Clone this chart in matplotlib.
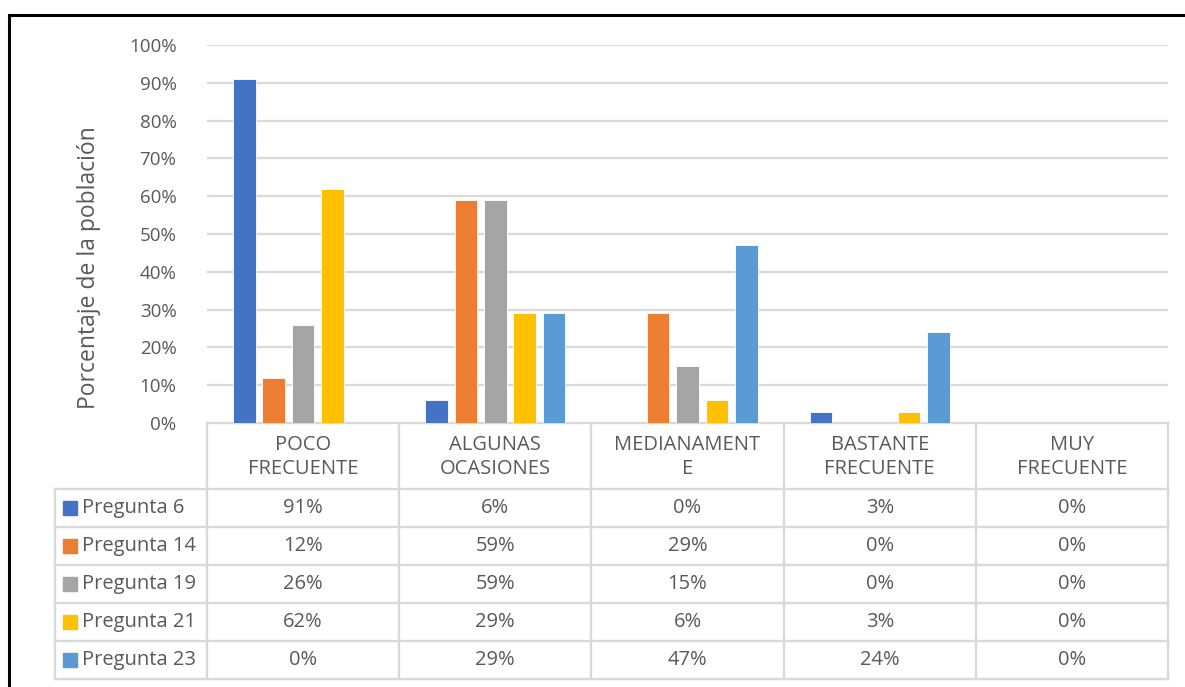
import matplotlib

matplotlib.use("Agg")
import matplotlib.pyplot as plt
import numpy as np
from matplotlib.patches import Rectangle
from matplotlib.ticker import FuncFormatter, MultipleLocator

categories = ["POCO\nFRECUENTE", "ALGUNAS\nOCASIONES", "MEDIANAMENT\nE",
              "BASTANTE\nFRECUENTE", "MUY\nFRECUENTE"]
series = ["Pregunta 6", "Pregunta 14", "Pregunta 19", "Pregunta 21", "Pregunta 23"]
pregunta_6 = [91, 6, 0, 3, 0]
pregunta_14 = [12, 59, 29, 0, 0]
pregunta_19 = [26, 59, 15, 0, 0]
pregunta_21 = [62, 29, 6, 3, 0]
pregunta_23 = [0, 29, 47, 24, 0]
colors = ["#4472C4", "#ED7D31", "#A5A5A5", "#FFC000", "#5B9BD5"]

values = [pregunta_6, pregunta_14, pregunta_19, pregunta_21, pregunta_23]

W, H = 1185, 687
FONT = "Open Sans"
TXT = "#595959"
GRID = "#D9D9D9"
FS = 14.5

fig = plt.figure(figsize=(W / 100, H / 100), dpi=100)

# plot area in pixel terms
x0, x1 = 207, 1168
y_top, y_zero = 45, 423
ax = fig.add_axes([x0 / W, 1 - y_zero / H, (x1 - x0) / W, (y_zero - y_top) / H])

n_cat = len(categories)
x = np.arange(n_cat)
pitch = 0.153
width = 0.118
for i, (name, vals) in enumerate(zip(series, values)):
    ax.bar(x + (i - 2) * pitch, np.array(vals) / 100, width, color=colors[i],
           edgecolor="white", linewidth=0.6, zorder=3)

ax.set_xlim(-0.5, n_cat - 0.5)
ax.set_ylim(0, 1.0)
ax.yaxis.set_major_locator(MultipleLocator(0.1))
ax.yaxis.set_major_formatter(FuncFormatter(lambda v, _: f"{v * 100:.0f}%"))
ax.grid(axis="y", color=GRID, linewidth=1.6, zorder=0)
ax.set_xticks([])
for s in ax.spines.values():
    s.set_visible(False)
ax.tick_params(axis="y", length=0, pad=22, labelsize=13.5, labelcolor=TXT)
for lbl in ax.get_yticklabels():
    lbl.set_fontfamily(FONT)
ax.set_ylabel("Porcentaje de la población", fontsize=16.5, color=TXT,
              family=FONT)
# the title sits a bit below the middle of the axis
ax.yaxis.set_label_coords((101 - x0) / (x1 - x0), 0.41)

# overlay in pixel coordinates for the data table and the outer frame
ov = fig.add_axes([0, 0, 1, 1], zorder=-1)
ov.set_xlim(0, W)
ov.set_ylim(H, 0)
ov.axis("off")

col_edges = np.linspace(x0, x1, n_cat + 1)
row_edges = [y_zero, 489, 527, 565, 603, 641, 679]
tab_left = 55
lw = 1.7

# header row and column lines
for cx in col_edges:
    ov.plot([cx, cx], [y_zero, row_edges[-1]], color=GRID, lw=lw)
for ry in row_edges[1:]:
    ov.plot([tab_left, x1], [ry, ry], color=GRID, lw=lw)
ov.plot([x0, x1], [y_zero, y_zero], color=GRID, lw=lw)
ov.plot([tab_left, tab_left], [row_edges[1], row_edges[-1]], color=GRID, lw=lw)

centers = (col_edges[:-1] + col_edges[1:]) / 2
for cx, cat in zip(centers, categories):
    ov.text(cx, (row_edges[0] + row_edges[1]) / 2 + 1, cat, ha="center",
            va="center", fontsize=FS, color=TXT, family=FONT, linespacing=1.3)

for r, (name, vals) in enumerate(zip(series, values)):
    cy = (row_edges[r + 1] + row_edges[r + 2]) / 2
    ov.add_patch(Rectangle((63, cy - 7), 14, 14, color=colors[r]))
    ov.text(82, cy, name, ha="left", va="center", fontsize=FS, color=TXT,
            family=FONT)
    for cx, v in zip(centers, vals):
        ov.text(cx, cy, f"{v}%", ha="center", va="center", fontsize=FS,
                color=TXT, family=FONT)

# outer chart frame
ov.plot([9, 9], [15, H], color="black", lw=2.2)
ov.plot([9, W], [15, 15], color="black", lw=2.2)

fig.savefig("out.png", dpi=100)
